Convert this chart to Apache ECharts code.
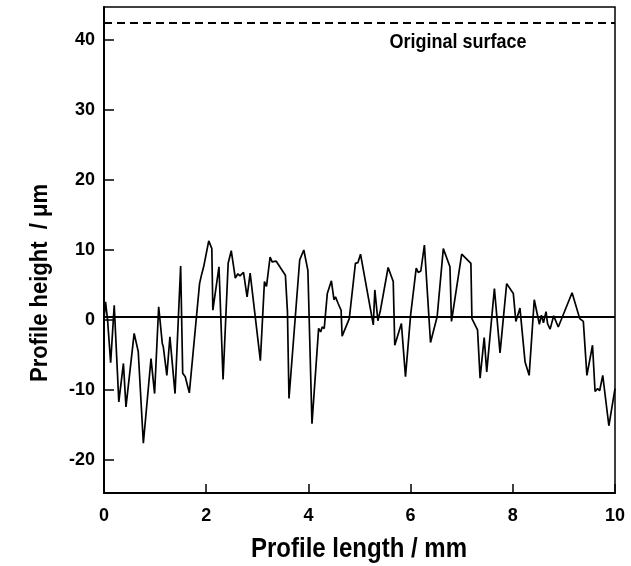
<!DOCTYPE html>
<html>
<head>
<meta charset="utf-8">
<script src="https://cdn.jsdelivr.net/npm/echarts@6/dist/echarts.min.js"></script>
<style>html,body{margin:0;padding:0;background:#fff;}#c{width:631px;height:566px;}</style>
</head>
<body>
<div id="c"></div>
<script>
// Profile length (mm)
var profileX = [0.00,0.03,0.07,0.13,0.20,0.29,0.38,0.43,0.59,0.67,0.77,0.92,0.99,1.07,1.14,1.16,1.23,1.29,1.39,1.50,1.54,1.59,1.67,1.87,1.90,1.95,2.05,2.11,2.13,2.25,2.33,2.43,2.49,2.57,2.62,2.66,2.73,2.80,2.86,3.06,3.14,3.18,3.25,3.29,3.37,3.55,3.59,3.62,3.83,3.91,3.99,4.07,4.20,4.24,4.27,4.31,4.37,4.45,4.50,4.53,4.58,4.64,4.66,4.80,4.92,4.97,5.02,5.27,5.30,5.36,5.41,5.56,5.66,5.69,5.82,5.90,6.00,6.11,6.15,6.20,6.27,6.39,6.52,6.64,6.77,6.80,7.00,7.18,7.20,7.31,7.36,7.44,7.49,7.64,7.75,7.88,8.01,8.06,8.14,8.24,8.32,8.42,8.52,8.56,8.60,8.65,8.68,8.73,8.80,8.89,9.16,9.31,9.38,9.45,9.56,9.61,9.66,9.70,9.76,9.88,10.00];
// Profile height (µm)
var profileY = [0.2,2.6,0.0,-6.1,2.1,-11.7,-6.2,-12.4,-1.9,-4.5,-17.6,-5.5,-10.5,1.9,-3.3,-3.8,-7.9,-2.4,-10.5,7.7,-7.6,-8.1,-10.4,5.2,6.2,7.6,11.3,10.2,1.4,7.6,-8.5,8.1,9.9,6.0,6.6,6.3,6.8,3.3,6.7,-5.8,5.5,4.8,9.0,8.3,8.4,6.4,1.2,-11.2,8.6,10.0,7.1,-14.8,-1.2,-1.7,-1.0,-1.2,3.8,5.6,2.9,3.3,2.4,1.4,-2.3,0.2,8.1,8.2,9.4,-0.7,4.3,-0.1,1.4,7.5,5.5,-3.6,-0.5,-8.1,0.7,7.4,6.8,7.0,10.7,-3.2,0.5,10.2,7.6,-0.2,9.4,8.1,0.2,-1.4,-8.3,-2.5,-7.4,4.5,-4.7,5.2,3.8,-0.2,1.7,-6.0,-7.9,2.9,-0.6,0.7,-0.4,1.2,-0.5,-1.3,0.6,-1.0,3.9,0.2,-0.2,-7.9,-3.6,-10.2,-9.8,-10.1,-7.9,-15.1,-9.8];
var surfaceLevel = 42.4;   // original surface
var meanLevel = 0.4;       // mean line
var yTicks = [-20,-10,0,10,20,30,40];

var pts = profileX.map(function(x,i){return [x, profileY[i]];});
var font = 'Liberation Sans, Arial, Helvetica, sans-serif';
var chart = echarts.init(document.getElementById('c'), null, {renderer:'canvas'});
chart.setOption({
  animation:false,
  backgroundColor:'#fff',
  grid:{left:104,right:16,top:7,bottom:73,show:true,borderColor:'#000',borderWidth:1.5,backgroundColor:'transparent'},
  xAxis:{
    type:'value',min:0,max:10,interval:2,
    axisLine:{show:true,onZero:false,lineStyle:{color:'#000',width:2}},
    axisTick:{show:true,inside:true,length:9,lineStyle:{color:'#000',width:1.5}},
    axisLabel:{color:'#000',fontFamily:font,fontWeight:'bold',fontSize:18,margin:14},
    splitLine:{show:false}
  },
  yAxis:{
    type:'value',min:-24.7,max:44.7,
    axisLine:{show:true,onZero:false,lineStyle:{color:'#000',width:2}},
    axisTick:{show:true,inside:true,length:10,customValues:yTicks,lineStyle:{color:'#000',width:1.5}},
    axisLabel:{color:'#000',fontFamily:font,fontWeight:'bold',fontSize:18,margin:9,customValues:yTicks},
    splitLine:{show:false}
  },
  series:[{
    type:'line',data:pts,showSymbol:false,symbol:'none',
    lineStyle:{color:'#000',width:1.7},
    markLine:{
      silent:true,symbol:'none',label:{show:false},
      data:[
        {yAxis:surfaceLevel,lineStyle:{color:'#000',width:1.8,type:[8,5]}},
        {yAxis:meanLevel,lineStyle:{color:'#000',width:2,type:'solid'}}
      ]
    }
  }],
  graphic:[
    {type:'text',x:458,y:43,scaleY:1.1,style:{text:'Original surface',fill:'#000',font:'bold 18px '+font,textAlign:'center',textVerticalAlign:'middle'}},
    {type:'text',x:359,y:550,scaleY:1.12,style:{text:'Profile length / mm',fill:'#000',font:'bold 24px '+font,textAlign:'center',textVerticalAlign:'middle'}},
    {type:'text',x:40,y:283,rotation:Math.PI/2,scaleY:1.12,style:{text:'Profile height  / \u03bcm',fill:'#000',font:'bold 22px '+font,textAlign:'center',textVerticalAlign:'middle'}}
  ]
});
</script>
</body>
</html>
